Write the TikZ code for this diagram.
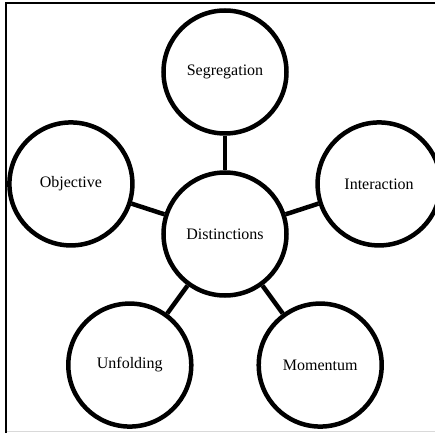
\documentclass[tikz,border=0pt]{standalone}
\usepackage{fontspec}
\setmainfont{Liberation Serif}
\tikzset{
    bubble/.style={circle, draw, line width=4.5pt, minimum size=123pt, inner sep=0pt,
                   font=\fontsize{16}{19}\selectfont},
    link/.style={line width=4.5pt}
}
\begin{document}
\begin{tikzpicture}[x=1pt, y=1pt]
    % Khung cắt của hình
    \clip (-225,-199) rectangle (210,234);
    \draw[line width=1.5pt] (-219,-199) -- (-219,231) -- (212,231);
    \draw[black!15, line width=1pt] (-218,-197.5) -- (212,-197.5);
    
    % Nút trung tâm
    \node[bubble] (dist) at (0,0) {Distinctions};
    
    % Các nút xung quanh và đường nối
    \foreach \name/\ang/\txt in {seg/90/Segregation, inter/18/Interaction,
                                 mom/-54/Momentum, unf/-126/Unfolding, obj/162/Objective} {
        \node[bubble] (\name) at (\ang:162) {\txt};
        \draw[link] (dist) -- (\name);
    }
\end{tikzpicture}
\end{document}
